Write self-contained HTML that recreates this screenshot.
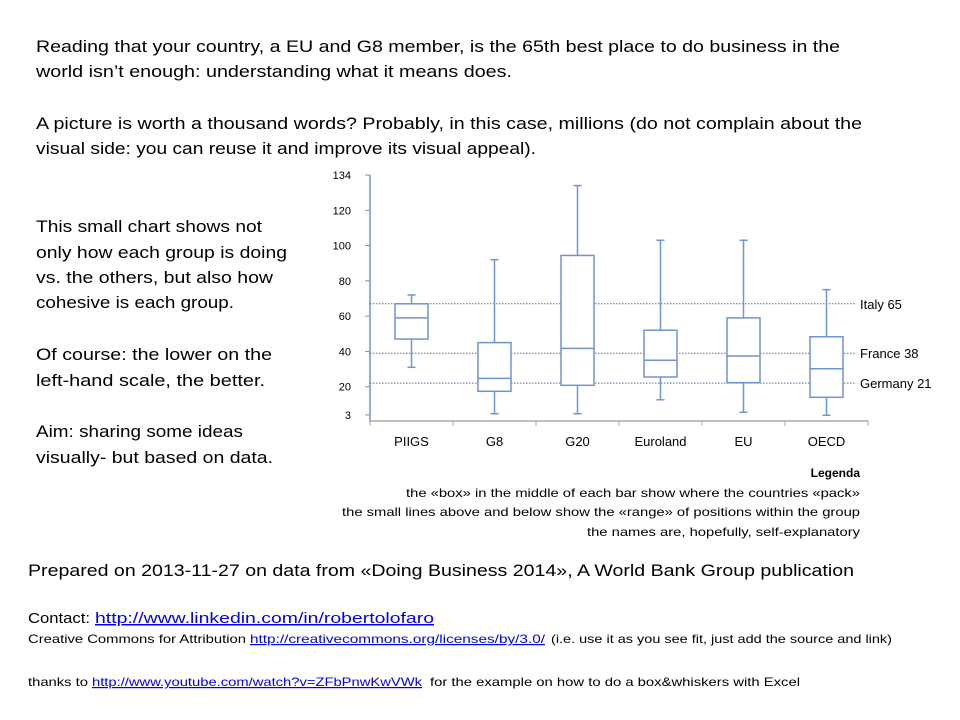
<!DOCTYPE html>
<html><head><meta charset="utf-8"><style>
html,body{margin:0;padding:0;background:#fff}
svg{display:block}
text{font-family:"Liberation Sans",sans-serif;fill:#000}
.lk{fill:#0000ee;text-decoration:underline}
</style></head><body>
<svg id="s" width="960" height="720" viewBox="0 0 960 720">
<g font-size="17">
<text x="36" y="52" textLength="804" lengthAdjust="spacingAndGlyphs">Reading that your country, a EU and G8 member,  is the 65th  best place to do business in the</text>
<text x="36" y="77" textLength="476" lengthAdjust="spacingAndGlyphs">world isn’t enough: understanding what it means does.</text>
<text x="36" y="129" textLength="826" lengthAdjust="spacingAndGlyphs">A picture is worth a thousand words? Probably, in this case, millions (do not complain about the</text>
<text x="36" y="154" textLength="500" lengthAdjust="spacingAndGlyphs">visual side: you can reuse it and improve its visual appeal).</text>
</g>
<g font-size="17">
<text x="36" y="232" textLength="226" lengthAdjust="spacingAndGlyphs">This small chart shows not</text>
<text x="36" y="258" textLength="251" lengthAdjust="spacingAndGlyphs">only how each group is doing</text>
<text x="36" y="283" textLength="237" lengthAdjust="spacingAndGlyphs">vs. the others, but also how</text>
<text x="36" y="308" textLength="198" lengthAdjust="spacingAndGlyphs">cohesive is each group.</text>
<text x="36" y="360" textLength="236" lengthAdjust="spacingAndGlyphs">Of course: the lower on the</text>
<text x="36" y="386" textLength="229" lengthAdjust="spacingAndGlyphs">left-hand scale, the better.</text>
<text x="36" y="437" textLength="207" lengthAdjust="spacingAndGlyphs">Aim: sharing some ideas</text>
<text x="36" y="463" textLength="237" lengthAdjust="spacingAndGlyphs">visually- but based on data.</text>
</g>
<g id="chart"></g>
<g font-size="12" text-anchor="end">
<text x="860" y="477" font-weight="bold">Legenda</text>
<text x="860" y="497" textLength="454" lengthAdjust="spacingAndGlyphs">the «box» in the middle of each bar show where the countries «pack»</text>
<text x="860" y="516" textLength="518" lengthAdjust="spacingAndGlyphs">the small lines above and below show the «range» of positions within the group</text>
<text x="860" y="536" textLength="273" lengthAdjust="spacingAndGlyphs">the names are, hopefully, self-explanatory</text>
</g>
<g>
<text x="28" y="576" font-size="17" textLength="826" lengthAdjust="spacingAndGlyphs">Prepared on 2013-11-27 on  data from «Doing Business 2014», A World Bank Group publication</text>
<text x="28" y="623" font-size="15" textLength="62" lengthAdjust="spacingAndGlyphs">Contact:</text>
<text x="95" y="623" font-size="15" class="lk" textLength="339" lengthAdjust="spacingAndGlyphs">http://www.linkedin.com/in/robertolofaro</text>
<text x="28" y="643" font-size="12" textLength="218" lengthAdjust="spacingAndGlyphs">Creative Commons for Attribution</text>
<text x="250" y="643" font-size="12" class="lk" textLength="295" lengthAdjust="spacingAndGlyphs">http://creativecommons.org/licenses/by/3.0/</text>
<text x="551" y="643" font-size="12" textLength="341" lengthAdjust="spacingAndGlyphs">(i.e. use it as you see fit, just add the source and link)</text>
<text x="28" y="686" font-size="12" textLength="60" lengthAdjust="spacingAndGlyphs">thanks to</text>
<text x="92" y="686" font-size="12" class="lk" textLength="330" lengthAdjust="spacingAndGlyphs">http://www.youtube.com/watch?v=ZFbPnwKwVWk</text>
<text x="430" y="686" font-size="12" textLength="370" lengthAdjust="spacingAndGlyphs">for the example on how to do a box&amp;whiskers with Excel</text>
</g>
</svg>
<script>
const categories=["PIIGS","G8","G20","Euroland","EU","OECD"];
const minVals=[31,4.7,4.7,12.6,5.5,3.8];
const q1Vals=[47,17.4,20.8,25.5,22.3,14];
const medianVals=[59,24.7,41.7,35,37.4,30.2];
const q3Vals=[67,45,94.4,52,59,48.3];
const maxVals=[72,92,134,103,103,75];
const tickValues=[4,20,40,60,80,100,120,140];
const tickLabels=["3","20","40","60","80","100","120","134"];
const refNames=["Italy 65","France 38","Germany 21"];
const refValues=[67,39,22];

const NS="http://www.w3.org/2000/svg";
const g=document.getElementById("chart");
const X0=370,X1=868,Y0=422,YMAX=140,YTOP=175;
const step=(X1-X0)/categories.length;
function y(v){return Y0-(Y0-YTOP)*v/YMAX;}
function xc(i){return X0+step*(i+0.5);}
const C="#7094d0";
function mk(t,a,parent){const e=document.createElementNS(NS,t);for(const k in a)e.setAttribute(k,a[k]);(parent||g).appendChild(e);return e;}

// axes
const ya=mk("line",{x1:X0,y1:YTOP,x2:X0,y2:421,stroke:C,"stroke-width":1.5});


const xa=mk("line",{x1:X0,y1:421,x2:X1,y2:421,stroke:"#aaa","stroke-width":1.5});


for(let i=0;i<=categories.length;i++){
  const t=mk("line",{x1:X0+step*i,y1:421,x2:X0+step*i,y2:426,stroke:"#aaa"});
  
  
}
tickValues.forEach((v,i)=>{
  const t=mk("line",{x1:X0-5,y1:y(v),x2:X0,y2:y(v),stroke:C});
  
  
  const l=mk("text",{x:351,y:y(v)+4,"font-size":11,"text-anchor":"end"});
  l.textContent=tickLabels[i];
  
  
});
// reference lines
refValues.forEach((v,i)=>{
  const l=mk("line",{x1:X0,y1:y(v),x2:856,y2:y(v),stroke:"#4a6fb0","stroke-width":1,"stroke-dasharray":"1.5,1.5"});
  
  
  const t=mk("text",{x:860,y:y(v)+5,"font-size":13});
  t.textContent=refNames[i];
  
  
});
// boxes
categories.forEach((c,i)=>{
  const x=xc(i),w=33,cap=8;
  const bg=mk("g",{fill:"none",stroke:C,"stroke-width":1.5});
  
  
  mk("line",{x1:x,y1:y(maxVals[i]),x2:x,y2:y(q3Vals[i])},bg);
  mk("line",{x1:x,y1:y(q1Vals[i]),x2:x,y2:y(minVals[i])},bg);
  mk("line",{x1:x-cap/2,y1:y(maxVals[i]),x2:x+cap/2,y2:y(maxVals[i])},bg);
  mk("line",{x1:x-cap/2,y1:y(minVals[i]),x2:x+cap/2,y2:y(minVals[i])},bg);
  mk("rect",{x:x-w/2,y:y(q3Vals[i]),width:w,height:y(q1Vals[i])-y(q3Vals[i]),fill:"#fff"},bg);
  mk("line",{x1:x-w/2,y1:y(medianVals[i]),x2:x+w/2,y2:y(medianVals[i])},bg);
  const t=mk("text",{x:x,y:446,"font-size":13,"text-anchor":"middle"});
  t.textContent=c;
  
  
});
</script>
</body></html>
